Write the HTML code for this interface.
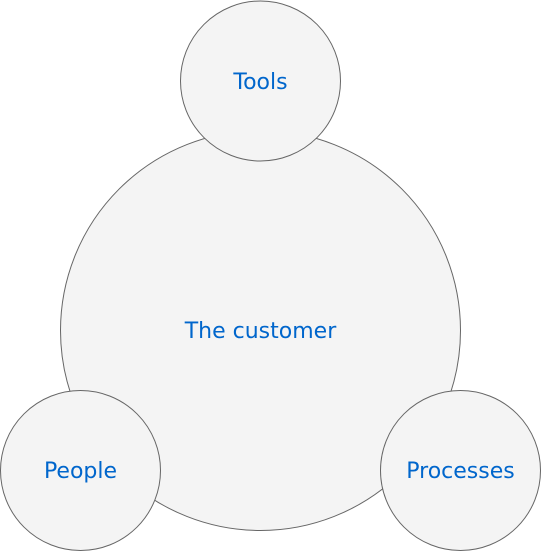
<!DOCTYPE html>
<html><head><style>body{margin:0;background:#fff}</style></head><body>
<svg width="541" height="551" viewBox="0 0 541 551" xmlns="http://www.w3.org/2000/svg" style="display:block">
<g fill="#f4f4f4" stroke="#666" stroke-width="1">
<circle cx="260.5" cy="330.5" r="200"/>
<circle cx="260.5" cy="81" r="80"/>
<circle cx="80.5" cy="470.5" r="80"/>
<circle cx="460.5" cy="470.5" r="80"/>
</g>
<g fill="#0066cc" font-family="DejaVu Sans, Liberation Sans, sans-serif" font-size="22" text-anchor="middle">
<text x="260.5" y="89">Tools</text>
<text x="260.5" y="338">The customer</text>
<text x="80.5" y="478">People</text>
<text x="460.5" y="478">Processes</text>
</g>
</svg>
</body></html>
